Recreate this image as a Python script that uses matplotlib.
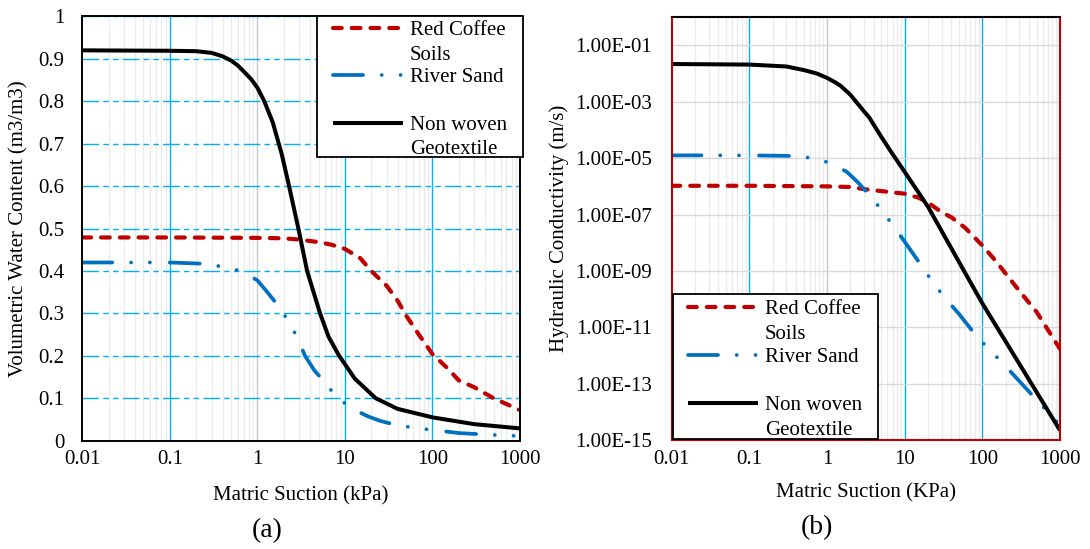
import numpy as np
import matplotlib
matplotlib.use('Agg')
import matplotlib.pyplot as plt
from matplotlib.lines import Line2D
from matplotlib.patches import Rectangle
from matplotlib.ticker import FixedLocator, NullLocator, LogLocator, FuncFormatter

plt.rcParams['font.family'] = ['Liberation Serif', 'DejaVu Serif']
plt.rcParams['font.size'] = 15

# ---- data ----
# (a) volumetric water content vs matric suction
swcc_geo_x = [0.01, 0.1, 0.2, 0.3, 0.4, 0.5, 0.6, 0.7, 0.85, 1.0, 1.2, 1.5, 1.9, 2.3, 2.94, 3.7,
              5.2, 6.5, 8.6, 13, 22.5, 40, 100, 300, 1000]
swcc_geo_y = [0.920, 0.919, 0.918, 0.914, 0.906, 0.896, 0.884, 0.870, 0.852, 0.832, 0.80, 0.75, 0.675, 0.60,
              0.50, 0.40, 0.30, 0.245, 0.20, 0.146, 0.10, 0.075, 0.055, 0.039, 0.029]

swcc_red_x = [0.01, 0.1, 1.0, 2, 3, 5, 7, 10, 15, 20, 30, 40, 50, 70, 100, 150, 200, 300, 500, 1000]
swcc_red_y = [0.479, 0.479, 0.478, 0.477, 0.474, 0.468, 0.462, 0.452, 0.43, 0.40, 0.365, 0.33, 0.295, 0.25,
              0.204, 0.170, 0.142, 0.126, 0.10, 0.072]

swcc_sand_x = [0.01, 0.1, 0.25, 0.4, 0.65, 1.0, 1.3, 1.7, 2.3, 2.9, 3.5, 4.5, 6, 8, 12, 18, 25, 40, 70,
               115, 200, 450, 1000]
swcc_sand_y = [0.420, 0.420, 0.417, 0.41, 0.40, 0.378, 0.35, 0.32, 0.28, 0.24, 0.20, 0.165, 0.136, 0.103,
               0.076, 0.058, 0.047, 0.036, 0.029, 0.024, 0.018, 0.014, 0.011]

# (b) hydraulic conductivity vs matric suction
hc_geo_x = [0.01, 0.1, 0.3, 0.5, 0.75, 1, 1.3, 1.5, 2, 2.5, 3, 3.5, 5, 7, 10, 20, 50, 100, 300, 1000]
hc_geo_y = [2.2e-2, 2.1e-2, 1.8e-2, 1.35e-2, 1.0e-2, 7.1e-3, 4.8e-3, 3.7e-3, 1.8e-3, 8.5e-4, 4.6e-4,
            2.8e-4, 5.8e-5, 1.4e-5, 3.3e-6, 1.9e-7, 2.1e-9, 7.1e-11, 5.0e-13, 2.2e-15]

hc_red_x = [0.01, 0.1, 1, 2, 3, 5, 10, 15, 20, 30, 40, 60, 100, 150, 200, 300, 500, 1000]
hc_red_y = [1.05e-6, 1.05e-6, 1.0e-6, 9.5e-7, 8e-7, 6.8e-7, 5.5e-7, 4e-7, 2.7e-7, 1.2e-7, 8e-8, 3.4e-8,
            8e-9, 2.2e-9, 8e-10, 1.95e-10, 3.5e-11, 1.7e-12]

hc_sand_x = [0.01, 0.1, 0.4, 0.65, 1.1, 1.8, 2.5, 3.5, 5, 7, 10, 17, 23, 33, 50, 85, 130, 190, 280, 550,
             800, 1000]
hc_sand_y = [1.26e-5, 1.26e-5, 1.2e-5, 1.0e-5, 6.8e-6, 3.3e-6, 1.4e-6, 5.1e-7, 1.5e-7, 4.3e-8, 1.1e-8,
             1.35e-9, 4e-10, 1.1e-10, 3e-11, 4.7e-12, 1.4e-12, 4.8e-13, 1.5e-13, 2e-14, 6.5e-15, 3.3e-15]

labels = ['Red Coffee\nSoils', 'River Sand\n', 'Non woven\nGeotextile']
x_ticks = [0.01, 0.1, 1, 10, 100, 1000]
swcc_ticks = [0, 0.1, 0.2, 0.3, 0.4, 0.5, 0.6, 0.7, 0.8, 0.9, 1]
hc_ticks = [1e-15, 1e-13, 1e-11, 1e-9, 1e-7, 1e-5, 1e-3, 1e-1]

# ---- styles ----
RED = '#C00000'
BLUE = '#0070C0'
GRID_BLUE = '#00B0F0'
W, H = 1090, 549

red_style = dict(color=RED, lw=3.0, ls=(0, (2.1, 2.4)), dash_capstyle='round')
sand_style = dict(color=BLUE, lw=2.7, ls=(0, (8.0, 5.0, 0.01, 5.0, 0.01, 5.3)), dash_capstyle='round')
geo_style = dict(color='black', lw=2.9, solid_capstyle='butt')
styles = [red_style, sand_style, geo_style]

fig = plt.figure(figsize=(10.9, 5.49), dpi=100)


def fig_xy(px, py):
    return px / W, 1 - py / H


def make_axes(x0, y0, x1, y1):
    return fig.add_axes([x0 / W, 1 - y1 / H, (x1 - x0) / W, (y1 - y0) / H])


def common_x(ax):
    ax.set_xscale('log')
    ax.set_xlim(0.01, 1000)
    ax.xaxis.set_major_locator(FixedLocator(x_ticks))
    ax.xaxis.set_major_formatter(FuncFormatter(lambda v, p: '%g' % v))
    ax.xaxis.set_minor_locator(LogLocator(base=10, subs=np.arange(2, 10), numticks=20))
    ax.grid(which='minor', axis='x', color='#EBEBEB', lw=1.0, zorder=0)
    for v in x_ticks[1:-1]:
        ax.axvline(v, color='#C8C8C8' if v == 1 else GRID_BLUE, lw=1.0, zorder=0.5)
    ax.tick_params(which='both', length=0)
    ax.tick_params(axis='x', pad=7)


def draw_legend(box, hx, tx, rows):
    # box: (left, top, right, bottom) in px; rows: y centres for the text lines
    bx0, by0 = fig_xy(box[0], box[3])
    bx1, by1 = fig_xy(box[2], box[1])
    fig.patches.append(Rectangle((bx0, by0), bx1 - bx0, by1 - by0, transform=fig.transFigure,
                                 facecolor='white', edgecolor='black', lw=1.3, zorder=5))
    text_rows = [rows[0], rows[1], rows[2], None, rows[3], rows[4]]
    handle_rows = [rows[0], rows[2], rows[3]]
    for i, lab in enumerate(labels):
        hy = fig_xy(0, handle_rows[i])[1]
        fig.lines.append(Line2D([hx[0] / W, hx[1] / W], [hy, hy], transform=fig.transFigure,
                                zorder=6, **styles[i]))
        for j, line in enumerate(lab.split('\n')):
            yy = text_rows[2 * i + j]
            if yy is None or not line:
                continue
            fig.text(tx / W, fig_xy(0, yy + 7)[1], line, ha='left', va='baseline', zorder=7)


# ---- (a) ----
ax1 = make_axes(82.3, 16.4, 520, 440.7)
ax1.plot(swcc_red_x, swcc_red_y, zorder=3, **red_style)
ax1.plot(swcc_sand_x, swcc_sand_y, zorder=3, **sand_style)
ax1.plot(swcc_geo_x, swcc_geo_y, zorder=4, **geo_style)
common_x(ax1)
ax1.set_ylim(0, 1)
ax1.yaxis.set_major_locator(FixedLocator(swcc_ticks))
ax1.yaxis.set_major_formatter(FuncFormatter(lambda v, p: '%g' % v))
ax1.grid(which='major', axis='y', color=GRID_BLUE, lw=1.0, ls=(0, (12, 3, 4, 3, 4, 3)), zorder=0)
ax1.tick_params(axis='y', pad=13)
for s in ax1.spines.values():
    s.set_color('black')
    s.set_linewidth(1.4)
    s.set_zorder(4.5)
ax1.set_xlabel('Matric Suction (kPa)', va='center', ha='center')
ax1.xaxis.set_label_coords(0.5, -0.130)
ax1.set_ylabel('Volumetric Water Content (m3/m3)', va='center', ha='center')
ax1.yaxis.set_label_coords(-0.1446, 0.5)

# ---- (b) ----
ax2 = make_axes(671.5, 17.3, 1060, 440)
ax2.plot(hc_red_x, hc_red_y, zorder=3, **red_style)
ax2.plot(hc_sand_x, hc_sand_y, zorder=3, **sand_style)
ax2.plot(hc_geo_x, hc_geo_y, zorder=4, **geo_style)
ax2.set_yscale('log')
common_x(ax2)
ax2.set_ylim(1e-15, 1)
ax2.yaxis.set_major_locator(FixedLocator(hc_ticks))
ax2.yaxis.set_minor_locator(NullLocator())
ax2.yaxis.set_major_formatter(FuncFormatter(lambda v, p: '%.2E' % v))
ax2.grid(which='major', axis='y', color='#D9D9D9', lw=1.0, zorder=0)
ax2.tick_params(axis='y', pad=14)
for name, s in ax2.spines.items():
    s.set_color('black' if name == 'top' else RED)
    s.set_linewidth(1.5)
    s.set_zorder(4.5)
ax2.set_xlabel('Matric Suction (KPa)', va='center', ha='center')
ax2.xaxis.set_label_coords(0.5, -0.125)
ax2.set_ylabel('Hydraulic Conductivity (m/s)', va='center', ha='center')
ax2.yaxis.set_label_coords(-0.288, 0.5)

# ---- legends ----
draw_legend((316.7, 15.7, 523, 157), (333, 403), 410, [28.3, 53.3, 75, 122.7, 146.7])
draw_legend((672.7, 294, 878.3, 439.3), (688, 758), 765, [306.7, 331.7, 355, 403.3, 428.3])

# ---- panel captions ----
fig.text(*fig_xy(267, 530.6), '(a)', ha='center', va='center', fontsize=20)
fig.text(*fig_xy(816.5, 527.8), '(b)', ha='center', va='center', fontsize=20)

fig.savefig('out.png', dpi=100)
